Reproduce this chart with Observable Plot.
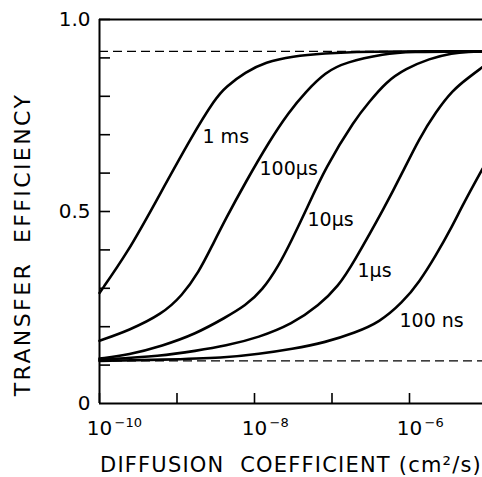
<!DOCTYPE html>
<html>
<head>
<meta charset="utf-8">
<script src="https://cdn.jsdelivr.net/npm/d3@7"></script>
<script src="https://cdn.jsdelivr.net/npm/@observablehq/plot@0.6"></script>
<style>
  html, body { margin: 0; padding: 0; background: #fff; }
  #chart svg { display: block; }
</style>
</head>
<body>
<div id="chart"></div>
<script>
// ---- data (log10 of diffusion coefficient in cm^2/s, transfer efficiency) ----
const seriesNames = ["1 ms", "100µs", "10µs", "1µs", "100 ns"];

const logD_1ms = [-10, -9.635, -9.299, -8.804, -8.503, -8.374, -8.116, -7.858, -7.514, -7.084, -6.697, -6.2, -5.058];
const eff_1ms  = [0.288, 0.394, 0.516, 0.698, 0.795, 0.824, 0.863, 0.889, 0.904, 0.912, 0.916, 0.917, 0.917];

const logD_100us = [-10, -9.622, -9.191, -8.933, -8.719, -8.546, -8.374, -8.116, -7.815, -7.557, -7.342, -7.084, -6.826, -6.306, -6.048, -5.058];
const eff_100us  = [0.1635, 0.190, 0.233, 0.281, 0.342, 0.411, 0.480, 0.576, 0.681, 0.759, 0.811, 0.863, 0.889, 0.911, 0.916, 0.917];

const logD_10us = [-10, -9.622, -9.191, -8.761, -8.374, -8.116, -7.901, -7.686, -7.514, -7.342, -7.084, -6.697, -6.52, -6.306, -6.048, -5.746, -5.445, -5.23, -5.058];
const eff_10us  = [0.117, 0.127, 0.150, 0.181, 0.224, 0.255, 0.294, 0.359, 0.428, 0.500, 0.615, 0.742, 0.785, 0.837, 0.872, 0.898, 0.913, 0.916, 0.917];

const logD_1us = [-10, -9.191, -8.761, -8.374, -7.944, -7.514, -7.170, -6.912, -6.735, -6.306, -6.090, -5.875, -5.661, -5.445, -5.230, -5.058];
const eff_1us  = [0.114, 0.124, 0.137, 0.150, 0.172, 0.207, 0.255, 0.307, 0.362, 0.516, 0.602, 0.690, 0.759, 0.816, 0.850, 0.876];

const logD_100ns = [-10, -9.191, -8.374, -7.944, -7.514, -7.084, -6.697, -6.391, -6.090, -5.875, -5.661, -5.445, -5.316, -5.058];
const eff_100ns  = [0.111, 0.114, 0.119, 0.129, 0.142, 0.159, 0.185, 0.211, 0.263, 0.316, 0.385, 0.463, 0.516, 0.611];

// curve label anchor points (start of text)
const labelLogD = [-8.671, -7.935, -7.316, -6.671, -6.129];
const labelEff  = [0.693, 0.610, 0.479, 0.346, 0.216];

// limiting values (dashed lines)
const limitValues = [0.111, 0.917];

// axes
const xDomainExp = [-10, -5.058];
const xTickExps = [-10, -9, -8, -7, -6];
const xLabelExps = [-10, -8, -6];
const yTicks = [0.1, 0.2, 0.3, 0.4, 0.5, 0.6, 0.7, 0.8, 0.9, 1.0];
const yLabelValues = [0, 0.5, 1.0];
const yLabelTexts = ["0", "0.5", "1.0"];

const xTitle = "DIFFUSION  COEFFICIENT (cm²/s)";
const yTitle = "TRANSFER  EFFICIENCY";

// ---- build tables ----
const seriesLogD = [logD_1ms, logD_100us, logD_10us, logD_1us, logD_100ns];
const seriesEff = [eff_1ms, eff_100us, eff_10us, eff_1us, eff_100ns];
const curveRows = seriesNames.flatMap((name, i) =>
  seriesLogD[i].map((e, j) => ({series: name, D: Math.pow(10, e), eff: seriesEff[i][j]})));
const labelRows = seriesNames.map((name, i) => ({text: name, D: Math.pow(10, labelLogD[i]), eff: labelEff[i]}));

const W = 482, H = 477, mL = 99, mR = 0, mT = 19, mB = 74;
const plotW = W - mL - mR, plotH = H - mT - mB;
const xMin = Math.pow(10, xDomainExp[0]), xMax = Math.pow(10, xDomainExp[1]);
const font = "DejaVu Sans";

const chart = Plot.plot({
  width: W, height: H,
  marginLeft: mL, marginRight: mR, marginTop: mT, marginBottom: mB,
  x: {type: "log", domain: [xMin, xMax], axis: null},
  y: {domain: [0, 1], axis: null},
  style: {fontFamily: font, background: "white", color: "black"},
  marks: [
    Plot.ruleY(limitValues, {strokeDasharray: "9,5", strokeWidth: 1.3, stroke: "black"}),
    Plot.line(curveRows, {x: "D", y: "eff", z: "series", curve: "basis", stroke: "black", strokeWidth: 2.6}),
    Plot.ruleX([xMin], {stroke: "black", strokeWidth: 2}),
    Plot.ruleY([0, 1], {stroke: "black", strokeWidth: 2}),
    Plot.tickY(yTicks, {y: d => d, insetRight: plotW - 11, stroke: "black", strokeWidth: 1.6}),
    Plot.tickX(xTickExps, {x: d => Math.pow(10, d), insetTop: plotH - 10, stroke: "black", strokeWidth: 1.6}),
    Plot.text(yLabelValues, {x: () => xMin, y: d => d, text: (d, i) => yLabelTexts[i], textAnchor: "end", dx: -9, fontSize: 20, fill: "black"}),
    Plot.text(xLabelExps, {x: d => Math.pow(10, d), frameAnchor: "bottom", lineAnchor: "middle", textAnchor: "middle", text: () => "10", dy: 25, fontSize: 20, fill: "black"}),
    Plot.text(xLabelExps, {x: d => Math.pow(10, d), frameAnchor: "bottom", lineAnchor: "middle", text: d => "\u2212" + Math.abs(d), textAnchor: "start", dx: 15, dy: 19, fontSize: 13, fill: "black"}),
    Plot.text(labelRows, {x: "D", y: "eff", text: "text", textAnchor: "start", fontSize: 19, fill: "black"}),
    Plot.text([xTitle], {frameAnchor: "bottom", lineAnchor: "middle", textAnchor: "middle", text: d => d, dy: 62, fontSize: 21, fill: "black"}),
    Plot.text([yTitle], {frameAnchor: "left", lineAnchor: "middle", textAnchor: "middle", text: d => d, rotate: -90, dx: -77, dy: 33, fontSize: 22, fill: "black"})
  ]
});
// letter spacing for the axis titles (wide lettering in the original)
d3.select(chart).selectAll("text").each(function () {
  const t = this.textContent;
  if (t === xTitle) d3.select(this).style("white-space", "pre").style("letter-spacing", "1.2px");
  if (t === yTitle) d3.select(this).style("white-space", "pre").style("letter-spacing", "2.4px");
});
document.getElementById("chart").appendChild(chart);
</script>
</body>
</html>
